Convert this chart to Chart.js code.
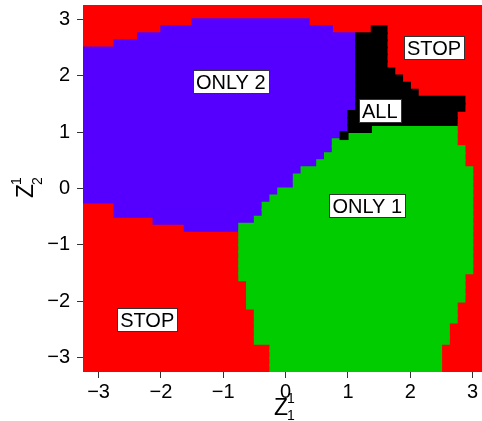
<!DOCTYPE html>
<html>
<head>
<meta charset="utf-8">
<script src="https://cdn.jsdelivr.net/npm/chart.js@4"></script>
<style>
  html, body { margin: 0; padding: 0; background: #fff; overflow: hidden; }
  canvas { display: block; }
</style>
</head>
<body>
<canvas id="mapa" width="482" height="421"></canvas>
<script>
//linhas do mapa (centro em Z2), de cima para baixo
const rowY = [3.1875, 3.0625, 2.9375, 2.8125, 2.6875, 2.5625, 2.4375, 2.3125, 2.1875, 2.0625,
  1.9375, 1.8125, 1.6875, 1.5625, 1.4375, 1.3125, 1.1875, 1.0625, 0.9375, 0.8125,
  0.6875, 0.5625, 0.4375, 0.3125, 0.1875, 0.0625, -0.0625, -0.1875, -0.3125, -0.4375,
  -0.5625, -0.6875, -0.8125, -0.9375, -1.0625, -1.1875, -1.3125, -1.4375, -1.5625, -1.6875,
  -1.8125, -1.9375, -2.0625, -2.1875, -2.3125, -2.4375, -2.5625, -2.6875, -2.8125, -2.9375,
  -3.0625, -3.1875];

//fundo: STOP em toda a linha
const stopSpan = [-3.25, 3.25];

//ONLY 2 (roxo) - trecho em Z1 por linha
const only2 = [
  null, null, [-1.5, 0.375], [-2, 0.75], [-2.375, 1.125], [-2.75, 1.125],
  [-3.25, 1.125], [-3.25, 1.125], [-3.25, 1.125], [-3.25, 1.125], [-3.25, 1.125],
  [-3.25, 1.125], [-3.25, 1.125], [-3.25, 1.125], [-3.25, 1.125],
  [-3.25, 1.0], [-3.25, 1.0], [-3.25, 1.0], [-3.25, 0.875], [-3.25, 0.75], [-3.25, 0.75],
  [-3.25, 0.625], [-3.25, 0.5], [-3.25, 0.25], [-3.25, 0.125], [-3.25, 0.125],
  [-3.25, -0.125], [-3.25, -0.25], [-2.75, -0.375], [-2.75, -0.375], [-2.125, -0.5],
  [-1.625, -0.75],
  null, null, null, null, null, null, null, null, null, null,
  null, null, null, null, null, null, null, null, null, null
];

//ALL (preto)
const allBoth = [
  null, null, null, [1.375, 1.625],
  [1.125, 1.625], [1.125, 1.625], [1.125, 1.625], [1.125, 1.625], [1.125, 1.625],
  [1.125, 1.75], [1.125, 1.875], [1.125, 2.0], [1.125, 2.125],
  [1.125, 2.875], [1.125, 2.875], [1.0, 2.75], [1.0, 2.75], [1.0, 1.375], [0.875, 1.0],
  null, null, null, null, null, null, null, null, null, null, null,
  null, null, null, null, null, null, null, null, null, null, null,
  null, null, null, null, null, null, null, null, null, null, null
];

//ONLY 1 (verde)
const only1 = [
  null, null, null, null, null, null, null, null, null, null,
  null, null, null, null, null, null, null,
  [1.375, 2.75], [1.0, 2.75], [0.75, 2.75], [0.75, 2.875], [0.625, 2.875], [0.5, 2.875],
  [0.25, 3.0], [0.125, 3.0], [0.125, 3.0], [-0.125, 3.0], [-0.25, 3.0],
  [-0.375, 3.0], [-0.375, 3.0], [-0.5, 3.0],
  [-0.75, 3.0], [-0.75, 3.0], [-0.75, 3.0], [-0.75, 3.0], [-0.75, 3.0], [-0.75, 3.0], [-0.75, 3.0],
  [-0.75, 2.875], [-0.625, 2.875], [-0.625, 2.875], [-0.625, 2.875], [-0.625, 2.75],
  [-0.5, 2.75], [-0.5, 2.75], [-0.5, 2.625], [-0.5, 2.625], [-0.5, 2.625],
  [-0.25, 2.5], [-0.25, 2.5], [-0.25, 2.5], [-0.25, 2.5]
];

//rotulos das regioes
const regionNames = ["ONLY 2", "STOP", "ALL", "ONLY 1", "STOP"];
const regionX = [-0.88, 2.38, 1.51, 1.31, -2.22];
const regionY = [1.89, 2.49, 1.385, -0.305, -2.32];

const xTicks = [-3, -2, -1, 0, 1, 2, 3];
const yTicks = [-3, -2, -1, 0, 1, 2, 3];

const FONTE = '"Liberation Sans", Arial, Helvetica, sans-serif';

//transforma os trechos em barras flutuantes horizontais
function montarBarras(trechos) {
  const barras = [];
  rowY.forEach((y, i) => {
    if (trechos[i]) barras.push({ y: y, x: trechos[i] });
  });
  return barras;
}

function rotuloTick(v) {
  return v < 0 ? "\u2212" + Math.abs(v) : String(v);
}

//plugin: caixas com os nomes das regioes
const rotulosPlugin = {
  id: "rotulos",
  afterDatasetsDraw(chart) {
    const ctx = chart.ctx;
    const sx = chart.scales.x, sy = chart.scales.y;
    ctx.save();
    ctx.font = "20px " + FONTE;
    ctx.textAlign = "center";
    ctx.textBaseline = "alphabetic";
    regionNames.forEach((nome, i) => {
      const cx = sx.getPixelForValue(regionX[i]);
      const cy = sy.getPixelForValue(regionY[i]);
      const w = ctx.measureText(nome).width + 6;
      const h = 23;
      ctx.fillStyle = "#fff";
      ctx.fillRect(Math.round(cx - w / 2) + 0.5, Math.round(cy - h / 2) + 0.5, Math.round(w), h);
      ctx.strokeStyle = "#333";
      ctx.lineWidth = 1;
      ctx.strokeRect(Math.round(cx - w / 2) + 0.5, Math.round(cy - h / 2) + 0.5, Math.round(w), h);
      ctx.fillStyle = "#000";
      ctx.fillText(nome, cx, cy + 7.5);
    });
    ctx.restore();
  },
  afterDraw(chart) {
    //titulos dos eixos: Z com indice e expoente empilhados
    const ctx = chart.ctx;
    ctx.save();
    ctx.fillStyle = "#000";
    ctx.textAlign = "left";
    ctx.textBaseline = "alphabetic";

    ctx.font = "23px " + FONTE;
    ctx.fillText("Z", 274, 415);
    ctx.font = "14px " + FONTE;
    ctx.fillText("1", 287, 403);
    ctx.fillText("1", 287, 420);

    ctx.translate(33, 198);
    ctx.rotate(-Math.PI / 2);
    ctx.font = "23px " + FONTE;
    ctx.fillText("Z", 0, 0);
    ctx.font = "14px " + FONTE;
    ctx.fillText("1", 13, -12);
    ctx.fillText("2", 13, 9);
    ctx.restore();
  }
};

const eixoComum = {
  type: "linear",
  offset: false,
  grid: {
    display: true,
    offset: false,
    drawOnChartArea: false,
    drawTicks: true,
    tickLength: 6,
    tickColor: "#333",
    tickWidth: 1
  },
  border: { display: false },
  ticks: {
    color: "#000",
    font: { family: FONTE, size: 20 },
    callback: rotuloTick
  }
};

const ctxMapa = document.getElementById("mapa").getContext("2d");

const grafico = new Chart(ctxMapa, {
  type: "bar",
  data: {
    datasets: [
      { label: "ALL", data: montarBarras(allBoth), backgroundColor: "#000000" },
      { label: "ONLY 1", data: montarBarras(only1), backgroundColor: "#00cc00" },
      { label: "ONLY 2", data: montarBarras(only2), backgroundColor: "#5500ff" },
      { label: "STOP", data: montarBarras(rowY.map(() => stopSpan)), backgroundColor: "#ff0000" }
    ]
  },
  options: {
    responsive: false,
    animation: false,
    indexAxis: "y",
    layout: { padding: { top: 5, right: 0, left: 0, bottom: 0 } },
    datasets: {
      bar: {
        grouped: false,
        borderWidth: 0,
        inflateAmount: 0.6,
        barPercentage: 1.1,
        categoryPercentage: 1
      }
    },
    plugins: {
      legend: { display: false },
      tooltip: { enabled: false }
    },
    scales: {
      x: {
        ...eixoComum,
        min: -3.25,
        max: 3.15,
        ticks: { ...eixoComum.ticks, padding: 2, maxRotation: 0 },
        afterBuildTicks: (s) => { s.ticks = xTicks.map((v) => ({ value: v })); },
        afterFit: (s) => { s.height = 49; s.paddingLeft = 0; s.paddingRight = 0; }
      },
      y: {
        ...eixoComum,
        min: -3.25,
        max: 3.25,
        ticks: { ...eixoComum.ticks, padding: 7 },
        afterBuildTicks: (s) => { s.ticks = yTicks.map((v) => ({ value: v })); },
        afterFit: (s) => { s.width = 83; s.paddingTop = 0; s.paddingBottom = 0; }
      }
    }
  },
  plugins: [rotulosPlugin]
});
</script>
</body>
</html>
